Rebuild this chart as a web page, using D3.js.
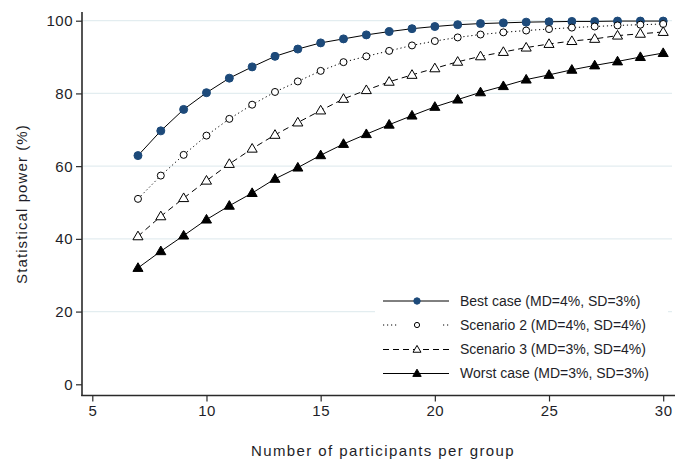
<!DOCTYPE html>
<html>
<head>
<meta charset="utf-8">
<script src="https://cdn.jsdelivr.net/npm/d3@7"></script>
<style>
  html, body { margin: 0; padding: 0; background: #fff; }
  svg { display: block; font-family: "Liberation Sans", Arial, sans-serif; }
</style>
</head>
<body>
<svg id="chart" width="675" height="461"></svg>
<script>
// ---- data ----
const participants = [7,8,9,10,11,12,13,14,15,16,17,18,19,20,21,22,23,24,25,26,27,28,29,30];
const bestCase   = [62.9,69.7,75.6,80.2,84.2,87.3,90.2,92.2,93.9,95.0,96.1,97.0,97.8,98.4,98.9,99.2,99.4,99.6,99.7,99.8,99.8,99.9,99.9,99.9];
const scenario2  = [51.0,57.4,63.1,68.4,73.0,76.9,80.4,83.3,86.2,88.6,90.2,91.7,93.2,94.4,95.4,96.2,96.8,97.3,97.7,98.1,98.4,98.7,98.9,99.1];
const scenario3  = [40.7,46.2,51.2,56.0,60.6,64.8,68.6,72.0,75.3,78.5,80.9,83.2,85.1,86.9,88.7,90.2,91.4,92.6,93.6,94.4,95.0,95.9,96.4,96.9];
const worstCase  = [32.0,36.6,40.9,45.3,49.1,52.6,56.5,59.6,63.0,66.1,68.8,71.4,73.9,76.3,78.3,80.3,82.0,83.8,85.1,86.5,87.7,88.8,90.0,91.1];
const seriesNames = ["Best case (MD=4%, SD=3%)","Scenario 2 (MD=4%, SD=4%)","Scenario 3 (MD=3%, SD=4%)","Worst case (MD=3%, SD=3%)"];
const xTicks = [5,10,15,20,25,30];
const yTicks = [0,20,40,60,80,100];
const gridTicks = [20,40,60,80,100];
const xTitle = "Number of participants per group";
const yTitle = "Statistical power (%)";

// ---- styles ----
const styles = [
  {values: bestCase,  dash: null,      marker: "circle",   fill: "#1d4a7a", stroke: "#1d4a7a", size: 4.0, lsize: 3.2},
  {values: scenario2, dash: "1.2,2.8", marker: "circle",   fill: "#fff",    stroke: "#000",    size: 3.5, lsize: 2.6},
  {values: scenario3, dash: "6,4",     marker: "triangle", fill: "#fff",    stroke: "#000",    size: 4.8, lsize: 3.8},
  {values: worstCase, dash: null,      marker: "triangle", fill: "#000",    stroke: "#000",    size: 4.8, lsize: 4.0}
];

const svg = d3.select("#chart");
const x = d3.scaleLinear().domain([5,30]).range([92.3,663.2]);
const y = d3.scaleLinear().domain([0,100]).range([384.3,20.7]);
const textColor = "#1e1e28";
const axisColor = "#2a2a2a";

// gridlines
svg.append("g").selectAll("line").data(gridTicks).join("line")
  .attr("x1", 83).attr("x2", 672)
  .attr("y1", d => y(d)).attr("y2", d => y(d))
  .attr("stroke", "#e3edf0").attr("stroke-width", 1.3);

// axes
const yAxis = d3.axisLeft(y).tickValues(yTicks).tickSize(6).tickPadding(3).tickFormat(d3.format("d"));
const gy = svg.append("g").attr("transform", "translate(82,0)").call(yAxis);
gy.select(".domain").remove();
svg.append("line").attr("x1",82).attr("x2",82).attr("y1",12).attr("y2",396)
  .attr("stroke",axisColor).attr("stroke-width",1.6);

const xAxis = d3.axisBottom(x).tickValues(xTicks).tickSize(6).tickPadding(4).tickFormat(d3.format("d"));
const gx = svg.append("g").attr("transform", "translate(0,395.5)").call(xAxis);
gx.select(".domain").remove();
svg.append("line").attr("x1",81.2).attr("x2",675).attr("y1",395.5).attr("y2",395.5)
  .attr("stroke",axisColor).attr("stroke-width",1.6);

[gx, gy].forEach(g => {
  g.selectAll(".tick line").attr("stroke", axisColor).attr("stroke-width", 1.2);
  g.selectAll(".tick text").attr("fill", textColor).style("font-size", "15px").style("letter-spacing", "0.5px");
});
gy.selectAll(".tick text").attr("dy", "0.34em");

// axis titles
svg.append("text").attr("x", 383).attr("y", 456)
  .attr("text-anchor", "middle").attr("fill", textColor)
  .style("font-size", "15px").style("letter-spacing", "1.4px").text(xTitle);
svg.append("text").attr("transform", "translate(27,204) rotate(-90)")
  .attr("text-anchor", "middle").attr("fill", textColor)
  .style("font-size", "15px").style("letter-spacing", "1.1px").text(yTitle);

// marker helper
function drawMarker(g, type, cx, cy, r, fill, stroke) {
  if (type === "circle") {
    g.append("circle").attr("cx", cx).attr("cy", cy).attr("r", r)
      .attr("fill", fill).attr("stroke", stroke).attr("stroke-width", 1);
  } else {
    const h = r * 1.8, w = r * 2.1;
    const pts = [[cx, cy - h*0.6],[cx - w/2, cy + h*0.4],[cx + w/2, cy + h*0.4]];
    g.append("path").attr("d", "M" + pts.map(p => p.join(",")).join("L") + "Z")
      .attr("fill", fill).attr("stroke", stroke).attr("stroke-width", 1).attr("stroke-linejoin","miter");
  }
}

// series
const line = d3.line().x((d,i) => x(participants[i])).y(d => y(d));
styles.forEach(s => {
  const g = svg.append("g");
  g.append("path").datum(s.values).attr("d", line)
    .attr("fill", "none").attr("stroke", "#000").attr("stroke-width", 1)
    .attr("stroke-dasharray", s.dash);
  s.values.forEach((v, i) => drawMarker(g, s.marker, x(participants[i]), y(v), s.size, s.fill, s.stroke));
});

// legend
const legend = svg.append("g");
legend.append("rect").attr("x", 375).attr("y", 286).attr("width", 293).attr("height", 100).attr("fill", "#fff");
const legendY = [301, 325, 349.5, 373.5];
styles.forEach((s, i) => {
  const ly = legendY[i];
  legend.append("line").attr("x1", 383).attr("x2", 449).attr("y1", ly).attr("y2", ly)
    .attr("stroke", "#000").attr("stroke-width", 1).attr("stroke-dasharray", s.dash);
  if (s.marker === "circle" && s.fill === "#fff") {
    legend.append("rect").attr("x", 398).attr("y", ly - 5).attr("width", 45).attr("height", 10).attr("fill", "#fff");
  }
  drawMarker(legend, s.marker, 417, ly, s.lsize, s.fill, s.stroke);
  legend.append("text").attr("x", 460).attr("y", ly).attr("dy", "0.35em")
    .attr("fill", textColor).style("font-size", "14px").text(seriesNames[i]);
});
</script>
</body>
</html>
